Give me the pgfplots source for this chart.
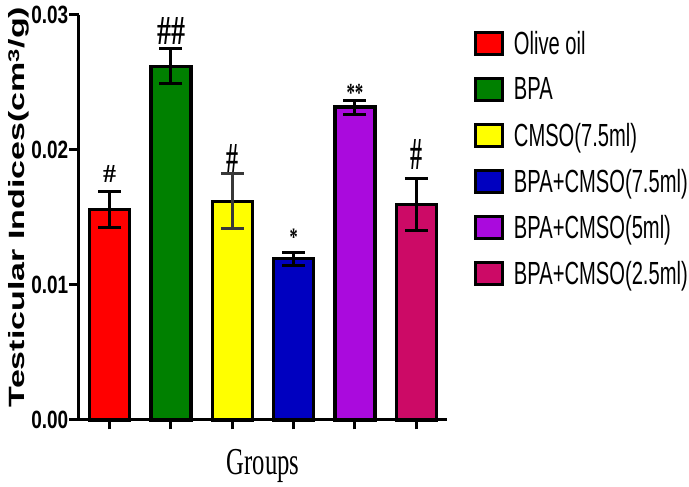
\documentclass[border=0pt]{standalone}
\usepackage{pgfplots}
\pgfplotsset{compat=1.18}
\usepackage{fontspec}
\setmainfont{Liberation Sans}
\newfontfamily\tickf[FakeStretch=0.76]{Liberation Sans}
\newfontfamily\legf[FakeStretch=0.63]{Liberation Sans}
\newfontfamily\grpf[FakeStretch=0.65]{Liberation Serif}
\newfontfamily\annf[FakeStretch=0.65]{Liberation Serif}
\definecolor{cred}{HTML}{FF0000}
\definecolor{cgreen}{HTML}{008000}
\definecolor{cyellow}{HTML}{FFFF00}
\definecolor{cblue}{HTML}{0000C0}
\definecolor{cpurple}{HTML}{AA0ADD}
\definecolor{cmag}{HTML}{CC0A66}
\begin{document}
\begin{tikzpicture}
\useasboundingbox (-79pt,-67pt) rectangle (610pt,420pt);
\begin{axis}[
  at={(0,0)}, anchor=south west,
  scale only axis, width=368pt, height=405pt,
  xmin=-0.5, xmax=5.5, ymin=0, ymax=0.03,
  axis x line*=bottom, axis y line*=left,
  axis line style={line width=3pt, black},
  tick style={line width=3pt, black},
  tick align=outside,
  major tick length=9.5pt,
  xtick={0,1,2,3,4,5}, xticklabels={},
  ytick={0,0.01,0.02,0.03},
  scaled y ticks=false,
  yticklabel style={font=\tickf\bfseries\fontsize{25}{25}\selectfont, /pgf/number format/fixed, /pgf/number format/fixed zerofill, /pgf/number format/precision=2, /pgf/number format/assume math mode=true, inner sep=0pt, xshift=-1pt},
  legend style={at={(axis description cs:1.072,0.9605)}, anchor=north west, draw=none, fill=none, inner sep=0pt, row sep=21pt, font=\legf\fontsize{32}{32}\selectfont, nodes={inner sep=0pt}, /tikz/every even column/.append style={column sep=0pt}},
  legend cell align=left,
  legend image code/.code={\draw[#1, line width=3pt, draw=black] (0pt,-11pt) rectangle (27pt,11pt); \path (37pt,0pt);},
  error bars/y dir=both, error bars/y explicit,
  error bars/error bar style={line width=3pt, black},
  error bars/error mark options={rotate=90, mark size=11.5pt, line width=3pt, black},
  clip=false,
]
\addplot[ybar, bar width=40pt, bar shift=0pt, fill=cred, draw=black, line width=3.5pt] coordinates {(0,0.0156) +- (0,0.00135)};
\addlegendentry{Olive oil}
\addplot[ybar, bar width=40pt, bar shift=0pt, fill=cgreen, draw=black, line width=3.5pt] coordinates {(1,0.0262) +- (0,0.0013)};
\addlegendentry{BPA}
\addplot[ybar, bar width=40pt, bar shift=0pt, fill=cyellow, draw=black, line width=3.5pt, error bars/error bar style={line width=3pt, black!78}, error bars/error mark options={rotate=90, mark size=11.5pt, line width=3pt, black!78}] coordinates {(2,0.0162) +- (0,0.00204)};
\addlegendentry{CMSO(7.5ml)}
\addplot[ybar, bar width=40pt, bar shift=0pt, fill=cblue, draw=black, line width=3.5pt] coordinates {(3,0.01196) +- (0,0.00048)};
\addlegendentry{BPA+CMSO(7.5ml)}
\addplot[ybar, bar width=40pt, bar shift=0pt, fill=cpurple, draw=black, line width=3.5pt] coordinates {(4,0.02318) +- (0,0.00052)};
\addlegendentry{BPA+CMSO(5ml)}
\addplot[ybar, bar width=40pt, bar shift=0pt, fill=cmag, draw=black, line width=3.5pt] coordinates {(5,0.01598) +- (0,0.00193)};
\addlegendentry{BPA+CMSO(2.5ml)}
\node[anchor=base, inner sep=0pt] at (axis cs:0,0.017556) {\annf\bfseries\resizebox{13pt}{17pt}{\#}};
\node[anchor=base, inner sep=0pt] at (axis cs:1,0.02778) {\annf\bfseries\resizebox{28pt}{27pt}{\#\#}};
\node[anchor=base, inner sep=0pt] at (axis cs:2,0.01837) {\annf\bfseries\resizebox{12pt}{28pt}{\#}};
\node[anchor=base, inner sep=0pt] at (axis cs:3,0.01296) {\annf\bfseries\fontsize{25}{25}\selectfont *};
\node[anchor=base, inner sep=0pt] at (axis cs:4,0.02356) {\annf\bfseries\fontsize{26}{26}\selectfont **};
\node[anchor=base, inner sep=0pt] at (axis cs:5,0.01852) {\annf\bfseries\resizebox{12pt}{30pt}{\#}};
\end{axis}
\node[rotate=90, anchor=base, inner sep=0pt] at (-54pt,213pt) {\scalebox{1}[0.65]{\bfseries\fontsize{34}{34}\selectfont Testicular Indices(cm$^{\mathbf{3}}$/g)}};
\node[anchor=base, inner sep=0pt] at (184pt,-55pt) {\grpf\fontsize{38}{38}\selectfont Groups};
\end{tikzpicture}
\end{document}
